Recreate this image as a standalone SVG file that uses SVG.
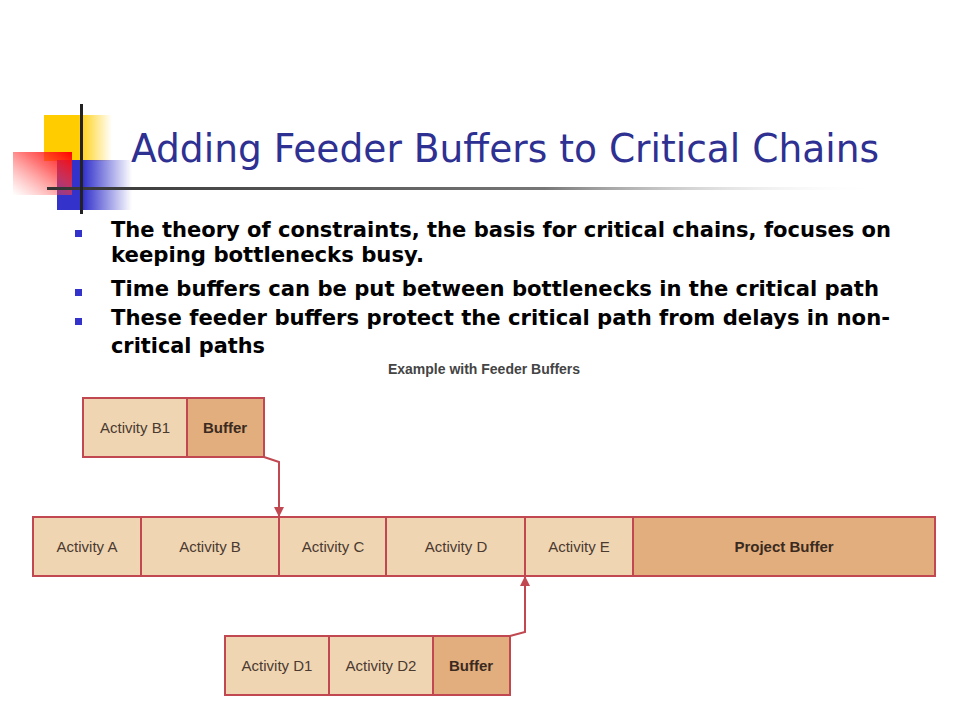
<svg xmlns="http://www.w3.org/2000/svg" width="960" height="720" viewBox="0 0 960 720">
<defs>
<linearGradient id="gy" x1="0" y1="0" x2="1" y2="0"><stop offset="0" stop-color="#FFCC00"/><stop offset="0.5" stop-color="#FFCC00"/><stop offset="1" stop-color="#FFCC00" stop-opacity="0"/></linearGradient>
<linearGradient id="gb" x1="0" y1="0" x2="1" y2="0"><stop offset="0" stop-color="#3333CC"/><stop offset="0.35" stop-color="#3333CC"/><stop offset="1" stop-color="#3333CC" stop-opacity="0"/></linearGradient>
<linearGradient id="gr" x1="1" y1="0" x2="0" y2="1"><stop offset="0" stop-color="#FF0000"/><stop offset="0.4" stop-color="#FF3333" stop-opacity="0.7"/><stop offset="1" stop-color="#FF6666" stop-opacity="0"/></linearGradient>
<linearGradient id="gl" x1="0" y1="0" x2="1" y2="0"><stop offset="0" stop-color="#333333"/><stop offset="0.6" stop-color="#777777"/><stop offset="1" stop-color="#FFFFFF" stop-opacity="0"/></linearGradient>
<marker id="ah" viewBox="0 0 10 10" refX="9" refY="5" markerWidth="5" markerHeight="5" orient="auto"><path d="M0,0 L10,5 L0,10 z" fill="#C14850"/></marker>
<style>
.act{fill:#F0D5B3;stroke:#C14850;stroke-width:2}
.buf{fill:#E3AE7E;stroke:#C14850;stroke-width:2}
.lbl{font-family:"Liberation Sans",Arial,sans-serif;font-size:15px;fill:#4A3A30;text-anchor:middle}
.blbl{font-family:"Liberation Sans",Arial,sans-serif;font-size:15px;font-weight:bold;fill:#3A2A20;text-anchor:middle}
.bul{font-family:"DejaVu Sans",Verdana,sans-serif;font-size:21px;font-weight:bold;fill:#000}
.conn{fill:none;stroke:#C14850;stroke-width:2;marker-end:url(#ah)}
</style>
</defs>
<rect width="960" height="720" fill="#FFFFFF"/>
<g id="logo">
<rect x="44" y="115" width="68" height="46" fill="url(#gy)"/>
<rect x="57" y="160" width="75" height="50" fill="url(#gb)"/>
<rect x="13" y="152" width="59" height="43" fill="url(#gr)"/>
<rect x="47" y="187" width="830" height="3" fill="url(#gl)"/>
<rect x="80" y="104" width="3" height="110" fill="#222222"/>
</g>
<text x="131" y="162" font-family="DejaVu Sans, Verdana, sans-serif" font-size="39" fill="#2E3192" textLength="748" lengthAdjust="spacingAndGlyphs">Adding Feeder Buffers to Critical Chains</text>
<g id="bullets">
<rect x="75" y="230" width="7" height="7" fill="#3333CC"/>
<rect x="75" y="289" width="7" height="7" fill="#3333CC"/>
<rect x="75" y="318" width="7" height="7" fill="#3333CC"/>
<text class="bul" x="111" y="237" textLength="780" lengthAdjust="spacingAndGlyphs">The theory of constraints, the basis for critical chains, focuses on</text>
<text class="bul" x="111" y="262" textLength="313" lengthAdjust="spacingAndGlyphs">keeping bottlenecks busy.</text>
<text class="bul" x="111" y="296" textLength="768" lengthAdjust="spacingAndGlyphs">Time buffers can be put between bottlenecks in the critical path</text>
<text class="bul" x="111" y="325" textLength="779" lengthAdjust="spacingAndGlyphs">These feeder buffers protect the critical path from delays in non-</text>
<text class="bul" x="111" y="353" textLength="154" lengthAdjust="spacingAndGlyphs">critical paths</text>
</g>
<text x="484" y="374" font-family="Liberation Sans, Arial, sans-serif" font-size="14" font-weight="bold" fill="#444444" text-anchor="middle">Example with Feeder Buffers</text>
<g id="feederB">
<g id="actB1"><rect class="act" x="83" y="398" width="104" height="59"/><text class="lbl" x="135" y="433">Activity B1</text></g>
<g id="bufB"><rect class="buf" x="187" y="398" width="77" height="59"/><text class="blbl" x="225" y="433">Buffer</text></g>
</g>
<g id="chain">
<g id="actA"><rect class="act" x="33" y="517" width="108" height="59"/><text class="lbl" x="87" y="552">Activity A</text></g>
<g id="actB"><rect class="act" x="141" y="517" width="138" height="59"/><text class="lbl" x="210" y="552">Activity B</text></g>
<g id="actC"><rect class="act" x="279" y="517" width="107" height="59"/><text class="lbl" x="333" y="552">Activity C</text></g>
<g id="actD"><rect class="act" x="386" y="517" width="139" height="59"/><text class="lbl" x="456" y="552">Activity D</text></g>
<g id="actE"><rect class="act" x="525" y="517" width="108" height="59"/><text class="lbl" x="579" y="552">Activity E</text></g>
<g id="projBuf"><rect class="buf" x="633" y="517" width="302" height="59"/><text class="blbl" x="784" y="552">Project Buffer</text></g>
</g>
<g id="feederD">
<g id="actD1"><rect class="act" x="225" y="636" width="104" height="59"/><text class="lbl" x="277" y="671">Activity D1</text></g>
<g id="actD2"><rect class="act" x="329" y="636" width="104" height="59"/><text class="lbl" x="381" y="671">Activity D2</text></g>
<g id="bufD"><rect class="buf" x="433" y="636" width="77" height="59"/><text class="blbl" x="471" y="671">Buffer</text></g>
</g>
<g id="connectors">
<path class="conn" d="M264,457 L279,462 L279,516"/>
<path class="conn" d="M510,636 L525,632 L525,577"/>
</g>
</svg>
